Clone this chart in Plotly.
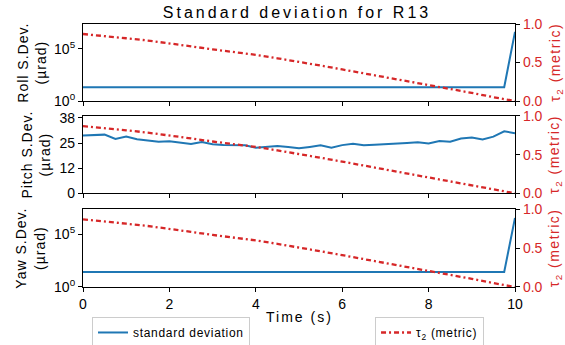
import plotly.graph_objects as go
from plotly.subplots import make_subplots

# ---- data ----
time_s = [round(i * 0.25, 2) for i in range(41)]

roll_std = [21, 21, 21.3, 21, 20.8, 21, 21.2, 21, 21, 21.1, 21, 20.9, 21, 21, 21.2, 21,
            20.8, 21, 21, 21.1, 21, 21, 20.9, 21, 21.1, 21, 21, 21.2, 21, 21, 21, 20.9,
            21, 21, 21.1, 21, 21, 21, 21, 21, 4.0e6]

pitch_std = [29.2, 29.3, 29.6, 27.4, 28.6, 27.3, 26.6, 26.0, 26.3, 25.6, 24.9, 25.9,
             24.8, 24.4, 24.3, 24.2, 23.0, 23.6, 23.9, 23.4, 22.7, 23.4, 24.2, 23.0,
             24.3, 25.0, 24.2, 24.5, 24.9, 25.1, 25.4, 25.7, 25.1, 26.4, 26.0, 27.6,
             28.1, 27.1, 28.6, 31.3, 30.3]

yaw_std = [27, 27.3, 27, 26.8, 27, 27.2, 27, 27, 26.9, 27, 27.1, 27, 27, 27.2, 27, 26.9,
           27, 27, 27.1, 27, 27, 26.8, 27, 27, 27.1, 27, 27, 27, 26.9, 27, 27.1, 27,
           27, 27, 27, 27.2, 27, 27, 27, 27, 3.6e6]

tau_time = [0, 0.5, 1, 1.5, 2, 2.5, 3, 3.5, 4, 4.5, 5, 5.5, 6, 6.5, 7, 7.5, 8, 8.5, 9, 9.5, 10]
tau2 = [0.87, 0.845, 0.815, 0.785, 0.75, 0.71, 0.67, 0.635, 0.60, 0.555, 0.51, 0.46,
        0.41, 0.36, 0.31, 0.26, 0.21, 0.16, 0.105, 0.05, 0.0]

panel_names = ["Roll S.Dev.", "Pitch S.Dev.", "Yaw S.Dev."]
x_ticks = [0, 2, 4, 6, 8, 10]
log_tickvals = [1, 1e5]
log_ticktext = ["10<sup>0</sup>", "10<sup>5</sup>"]
pitch_tickvals = [0, 38 / 3, 2 * 38 / 3, 38]
pitch_ticktext = ["0", "12", "25", "38"]
tau_tickvals = [0, 0.5, 1.0]
tau_ticktext = ["0.0", "0.5", "1.0"]

BLUE = "#1f77b4"
RED = "#d62728"
FONT = "Liberation Sans, Arial, sans-serif"
DASH = "5px,3px,2px,3px"


def spaced(text, px):
    return '<span style="letter-spacing:%spx">%s</span>' % (px, text)


fig = make_subplots(rows=3, cols=1, specs=[[{"secondary_y": True}]] * 3)

series = [roll_std, pitch_std, yaw_std]
for i, s in enumerate(series):
    r = i + 1
    fig.add_trace(go.Scatter(x=time_s, y=s, mode="lines",
                             line=dict(color=BLUE, width=2),
                             name=spaced("standard deviation", 0.7), legend="legend",
                             showlegend=(i == 0)),
                  row=r, col=1, secondary_y=False)
    fig.add_trace(go.Scatter(x=tau_time, y=tau2, mode="lines",
                             line=dict(color=RED, width=2.3, dash=DASH),
                             name=spaced("τ<sub>2</sub> (metric)", 0.7), legend="legend2",
                             showlegend=(i == 0)),
                  row=r, col=1, secondary_y=True)

domains = [[0.7072, 1.0], [0.3563, 0.6502], [0.0, 0.2954]]
axcommon = dict(showline=True, linecolor="black", linewidth=1.2, ticks="outside",
                ticklen=4, tickcolor="black", showgrid=False, zeroline=False,
                automargin=False,
                tickfont=dict(size=14, color="black", family=FONT))

for i in range(3):
    r = i + 1
    fig.update_xaxes(row=r, col=1, domain=[0, 1], range=[0, 10], tickvals=x_ticks,
                     showticklabels=(r == 3), mirror=True, **axcommon)
    if i == 1:
        fig.update_yaxes(row=r, col=1, secondary_y=False, domain=domains[i],
                         range=[0, 39], tickvals=pitch_tickvals, ticktext=pitch_ticktext,
                         mirror=True, **axcommon)
    else:
        fig.update_yaxes(row=r, col=1, secondary_y=False, domain=domains[i],
                         type="log", range=[0, 7.35 if i == 0 else 7.38],
                         tickvals=log_tickvals, ticktext=log_ticktext,
                         mirror=True, **axcommon)
    sec = dict(axcommon)
    sec["tickfont"] = dict(size=14, color=RED, family=FONT)
    fig.update_yaxes(row=r, col=1, secondary_y=True, domain=domains[i],
                     range=[0, 1], tickvals=tau_tickvals, ticktext=tau_ticktext, **sec)

annotations = []
left_x = [-0.120, -0.109, -0.1215]
centers = [0.8536, 0.503, 0.1477]
for i in range(3):
    annotations.append(dict(text=spaced(panel_names[i], 1) + "<br>" + spaced("(µrad)", 1),
                            xref="paper", yref="paper",
                            x=left_x[i], y=centers[i], xanchor="center", yanchor="middle",
                            textangle=-90, showarrow=False,
                            font=dict(size=14, color="black", family=FONT)))
    annotations.append(dict(text=spaced("τ<sub>2</sub> (metric)", 1.5),
                            xref="paper", yref="paper",
                            x=1.093, y=centers[i], xanchor="center", yanchor="middle",
                            textangle=-90, showarrow=False,
                            font=dict(size=14, color=RED, family=FONT)))
annotations.append(dict(text=spaced("Time (s)", 2),
                        xref="paper", yref="paper", x=0.502, y=-0.114,
                        xanchor="center", yanchor="middle", showarrow=False,
                        font=dict(size=14, color="black", family=FONT)))

fig.update_layout(
    width=565, height=345,
    margin=dict(l=83, r=50, t=24, b=58, autoexpand=False),
    paper_bgcolor="white", plot_bgcolor="white",
    title=dict(text=spaced("Standard deviation for R13", 3),
               x=0.5257, xref="container", xanchor="center",
               y=0.965, yref="container", yanchor="middle",
               font=dict(size=16, color="black", family=FONT)),
    annotations=annotations,
    legend=dict(x=0.0208, y=-0.114, xref="paper", yref="paper",
                xanchor="left", yanchor="top", bgcolor="white",
                bordercolor="#cccccc", borderwidth=1,
                font=dict(size=12, color="black", family=FONT)),
    legend2=dict(x=0.676, y=-0.114, xref="paper", yref="paper",
                 xanchor="left", yanchor="top", bgcolor="white",
                 bordercolor="#cccccc", borderwidth=1,
                 font=dict(size=12, color="black", family=FONT)),
)

fig.write_html("out.html", config={"displayModeBar": False},
               post_script="document.body.style.margin='0px';")
